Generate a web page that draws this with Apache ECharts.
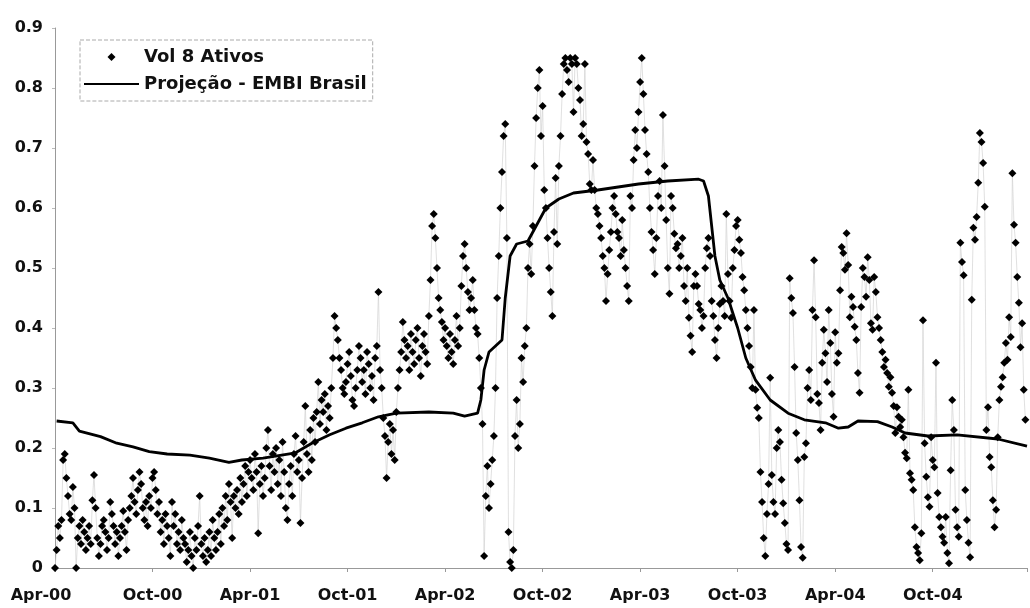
<!DOCTYPE html>
<html>
<head>
<meta charset="utf-8">
<script src="https://cdn.jsdelivr.net/npm/echarts@6/dist/echarts.min.js"></script>
<style>
  html, body { margin: 0; padding: 0; background: #fff; }
  #chart { width: 1030px; height: 608px; }
</style>
</head>
<body>
<div id="chart"></div>
<script>
// Tick labels (x axis every 6 months starting Apr-2000; x in months since Apr-2000)
const xTickLabels = ['Apr-00', 'Oct-00', 'Apr-01', 'Oct-01', 'Apr-02', 'Oct-02', 'Apr-03', 'Oct-03', 'Apr-04', 'Oct-04'];
const yTickLabels = ['0', '0.1', '0.2', '0.3', '0.4', '0.5', '0.6', '0.7', '0.8', '0.9'];

const volName = 'Vol 8 Ativos';
const embiName = 'Projeção - EMBI Brasil';

// Volatility observations, one every 0.1 month from Apr-2000 (one row per month)
const volStep = 0.1;
const volValues = [
  0.00, 0.03, 0.07, 0.05, 0.08, 0.18, 0.19, 0.15, 0.12, 0.09,
  0.08, 0.135, 0.10, 0.00, 0.05, 0.07, 0.04, 0.08, 0.06, 0.03,
  0.05, 0.07, 0.04, 0.113, 0.155, 0.10, 0.05, 0.02, 0.04, 0.07,
  0.08, 0.06, 0.03, 0.05, 0.11, 0.09, 0.07, 0.04, 0.06, 0.02,
  0.05, 0.07, 0.095, 0.06, 0.03, 0.08, 0.10, 0.12, 0.15, 0.11,
  0.09, 0.13, 0.16, 0.14, 0.10, 0.08, 0.11, 0.07, 0.12, 0.10,
  0.15, 0.16, 0.13, 0.09, 0.11, 0.06, 0.08, 0.04, 0.09, 0.07,
  0.05, 0.02, 0.11, 0.07, 0.09, 0.04, 0.06, 0.03, 0.08, 0.05,
  0.04, 0.01, 0.03, 0.06, 0.02, 0.00, 0.05, 0.03, 0.07, 0.12,
  0.04, 0.02, 0.05, 0.01, 0.03, 0.06, 0.02, 0.08, 0.05, 0.03,
  0.06, 0.09, 0.04, 0.10, 0.07, 0.12, 0.08, 0.14, 0.11, 0.05,
  0.12, 0.10, 0.13, 0.09, 0.15, 0.11, 0.14, 0.17, 0.12, 0.16,
  0.18, 0.15, 0.13, 0.19, 0.16, 0.058, 0.14, 0.17, 0.12, 0.15,
  0.20, 0.23, 0.17, 0.13, 0.19, 0.16, 0.20, 0.14, 0.18, 0.12,
  0.21, 0.16, 0.10, 0.08, 0.14, 0.17, 0.12, 0.19, 0.22, 0.16,
  0.18, 0.075, 0.15, 0.21, 0.27, 0.19, 0.16, 0.23, 0.18, 0.25,
  0.21, 0.26, 0.31, 0.24, 0.28, 0.26, 0.29, 0.23, 0.27, 0.25,
  0.30, 0.35, 0.42, 0.40, 0.38, 0.35, 0.33, 0.30, 0.29, 0.31,
  0.34, 0.36, 0.32, 0.28, 0.27, 0.30, 0.33, 0.37, 0.35, 0.31,
  0.33, 0.29, 0.36, 0.34, 0.30, 0.32, 0.28, 0.35, 0.37, 0.46,
  0.33, 0.30, 0.25, 0.22, 0.15, 0.21, 0.24, 0.19, 0.23, 0.18,
  0.26, 0.30, 0.33, 0.36, 0.41, 0.38, 0.35, 0.37, 0.33, 0.39,
  0.36, 0.34, 0.38, 0.40, 0.35, 0.32, 0.37, 0.39, 0.36, 0.34,
  0.42, 0.48, 0.57, 0.59, 0.55, 0.50, 0.45, 0.43, 0.41, 0.38,
  0.40, 0.37, 0.35, 0.39, 0.36, 0.34, 0.38, 0.42, 0.37, 0.40,
  0.47, 0.52, 0.54, 0.50, 0.46, 0.43, 0.45, 0.48, 0.43, 0.40,
  0.39, 0.35, 0.30, 0.24, 0.02, 0.12, 0.17, 0.10, 0.14, 0.18,
  0.22, 0.30, 0.45, 0.52, 0.60, 0.66, 0.72, 0.74, 0.55, 0.06,
  0.01, 0.00, 0.03, 0.22, 0.28, 0.20, 0.24, 0.35, 0.31, 0.37,
  0.40, 0.50, 0.54, 0.49, 0.57, 0.67, 0.75, 0.80, 0.83, 0.72,
  0.77, 0.63, 0.60, 0.55, 0.50, 0.46, 0.42, 0.56, 0.65, 0.54,
  0.67, 0.72, 0.79, 0.84, 0.85, 0.83, 0.81, 0.85, 0.84, 0.76,
  0.85, 0.84, 0.80, 0.78, 0.72, 0.74, 0.84, 0.71, 0.69, 0.64,
  0.63, 0.68, 0.63, 0.60, 0.59, 0.57, 0.55, 0.52, 0.50, 0.445,
  0.49, 0.53, 0.56, 0.60, 0.62, 0.59, 0.56, 0.55, 0.52, 0.58,
  0.53, 0.50, 0.47, 0.445, 0.62, 0.60, 0.68, 0.73, 0.70, 0.76,
  0.81, 0.85, 0.79, 0.73, 0.69, 0.66, 0.60, 0.56, 0.53, 0.49,
  0.55, 0.62, 0.645, 0.60, 0.755, 0.67, 0.58, 0.50, 0.457, 0.62,
  0.60, 0.557, 0.533, 0.54, 0.50, 0.52, 0.55, 0.47, 0.445, 0.50,
  0.417, 0.387, 0.36, 0.47, 0.49, 0.47, 0.44, 0.43, 0.40, 0.42,
  0.50, 0.533, 0.55, 0.52, 0.445, 0.42, 0.38, 0.35, 0.40, 0.44,
  0.47, 0.445, 0.42, 0.59, 0.49, 0.445, 0.417, 0.50, 0.53, 0.57,
  0.58, 0.547, 0.525, 0.485, 0.463, 0.43, 0.40, 0.37, 0.335, 0.30,
  0.43, 0.297, 0.267, 0.25, 0.16, 0.11, 0.05, 0.02, 0.09, 0.14,
  0.317, 0.155, 0.11, 0.09, 0.20, 0.23, 0.21, 0.147, 0.108, 0.075,
  0.04, 0.03, 0.483, 0.45, 0.425, 0.335, 0.225, 0.18, 0.113, 0.035,
  0.017, 0.185, 0.208, 0.30, 0.33, 0.28, 0.43, 0.513, 0.418, 0.29,
  0.275, 0.23, 0.342, 0.397, 0.358, 0.31, 0.43, 0.375, 0.29, 0.252,
  0.393, 0.342, 0.358, 0.463, 0.535, 0.525, 0.497, 0.558, 0.505, 0.418,
  0.452, 0.435, 0.402, 0.38, 0.325, 0.292, 0.435, 0.50, 0.485, 0.452,
  0.518, 0.48, 0.408, 0.397, 0.485, 0.46, 0.418, 0.40, 0.38, 0.36,
  0.335, 0.347, 0.325, 0.302, 0.318, 0.292, 0.27, 0.225, 0.268, 0.252,
  0.235, 0.247, 0.218, 0.192, 0.183, 0.297, 0.158, 0.147, 0.13, 0.068,
  0.035, 0.025, 0.013, 0.058, 0.413, 0.208, 0.152, 0.118, 0.102, 0.218,
  0.18, 0.168, 0.342, 0.125, 0.085, 0.068, 0.052, 0.042, 0.085, 0.025,
  0.008, 0.163, 0.28, 0.23, 0.097, 0.068, 0.052, 0.542, 0.51, 0.488,
  0.13, 0.08, 0.042, 0.018, 0.447, 0.567, 0.547, 0.585, 0.642, 0.725,
  0.71, 0.675, 0.602, 0.23, 0.268, 0.185, 0.168, 0.113, 0.068, 0.097,
  0.218, 0.28, 0.302, 0.318, 0.342, 0.375, 0.347, 0.418, 0.385, 0.658,
  0.572, 0.542, 0.485, 0.442, 0.368, 0.408, 0.297, 0.247
];

// EMBI Brasil projection: [months since Apr-2000, value]
const embiPoints = [
  [0.1, 0.245], [1.1, 0.242], [1.5, 0.228], [2.8, 0.219], [3.8, 0.208],
  [4.8, 0.202], [5.8, 0.194], [6.9, 0.190], [8.3, 0.188], [9.5, 0.183],
  [10.7, 0.176], [11.5, 0.180], [12.8, 0.183], [14.8, 0.192], [15.8, 0.208],
  [16.9, 0.222], [17.9, 0.233], [18.9, 0.242], [19.9, 0.252], [21.0, 0.258],
  [23.0, 0.260], [24.5, 0.258], [25.2, 0.253], [26.0, 0.258], [26.2, 0.280],
  [26.4, 0.330], [26.7, 0.360], [27.1, 0.370], [27.5, 0.380], [27.7, 0.450],
  [28.0, 0.520], [28.4, 0.540], [29.1, 0.545], [29.8, 0.580], [30.2, 0.600],
  [31.0, 0.615], [31.9, 0.625], [33.4, 0.630], [35.9, 0.640], [37.7, 0.645],
  [39.6, 0.648], [39.9, 0.645], [40.2, 0.620], [40.4, 0.570], [40.6, 0.520],
  [40.9, 0.480], [41.4, 0.450], [42.0, 0.400], [42.5, 0.350], [43.1, 0.313],
  [44.0, 0.280], [45.1, 0.258], [46.1, 0.247], [47.4, 0.242], [48.2, 0.233],
  [48.8, 0.235], [49.4, 0.245], [50.6, 0.244], [51.5, 0.235], [52.3, 0.225],
  [53.7, 0.220], [55.5, 0.222], [58.0, 0.215], [59.8, 0.203]
];

const volData = volValues.map((v, i) => [+(i * volStep).toFixed(2), v]);

const labelFont = { fontFamily: 'DejaVu Sans', fontWeight: 'bold', fontSize: 16, color: '#111' };

const chart = echarts.init(document.getElementById('chart'), null, { renderer: 'canvas' });
chart.setOption({
  animation: false,
  backgroundColor: '#fff',
  grid: { left: 55, right: 0, top: 28, bottom: 40, containLabel: false },
  legend: {
    orient: 'vertical',
    left: 80,
    top: 40,
    padding: [7, 6, 7, 3],
    itemGap: 7,
    itemWidth: 55,
    itemHeight: 10,
    borderColor: '#aaa',
    borderWidth: 1,
    borderType: 'dashed',
    backgroundColor: '#fff',
    textStyle: { fontFamily: 'DejaVu Sans', fontWeight: 'bold', fontSize: 18, color: '#111', lineHeight: 20 },
    data: [
      { name: volName, lineStyle: { opacity: 0 } },
      { name: embiName, itemStyle: { opacity: 0 } }
    ]
  },
  xAxis: {
    type: 'value',
    min: 0,
    max: 59.8,
    interval: 6,
    splitLine: { show: false },
    axisLine: { show: true, lineStyle: { color: '#999', width: 1 } },
    axisTick: { show: true, length: 4, lineStyle: { color: '#999' } },
    axisLabel: Object.assign({}, labelFont, {
      margin: 20,
      formatter: function (v) {
        const i = Math.round(v / 6);
        if (Math.abs(v - i * 6) > 1e-6 || i >= xTickLabels.length) return '';
        return i === 0 ? '{first|' + xTickLabels[0] + '}' : xTickLabels[i];
      },
      rich: {
        first: { fontFamily: 'DejaVu Sans', fontWeight: 'bold', fontSize: 16, color: '#111', padding: [0, 28, 0, 0] }
      }
    })
  },
  yAxis: {
    type: 'value',
    min: 0,
    max: 0.9,
    interval: 0.1,
    splitLine: { show: false },
    axisLine: { show: true, lineStyle: { color: '#999', width: 1 } },
    axisTick: { show: true, length: 3, lineStyle: { color: '#bbb' } },
    axisLabel: Object.assign({}, labelFont, {
      margin: 12,
      formatter: function (v) { return yTickLabels[Math.round(v * 10)]; }
    })
  },
  series: [
    {
      name: volName,
      type: 'line',
      data: volData,
      symbol: 'diamond',
      symbolSize: 8,
      showAllSymbol: true,
      itemStyle: { color: '#000' },
      lineStyle: { color: '#d2d2d2', width: 0.7 },
      z: 2
    },
    {
      name: embiName,
      type: 'line',
      data: embiPoints,
      symbol: 'circle',
      showSymbol: false,
      itemStyle: { color: '#000' },
      lineStyle: { color: '#000', width: 2.8 },
      z: 3
    }
  ]
});
</script>
</body>
</html>
